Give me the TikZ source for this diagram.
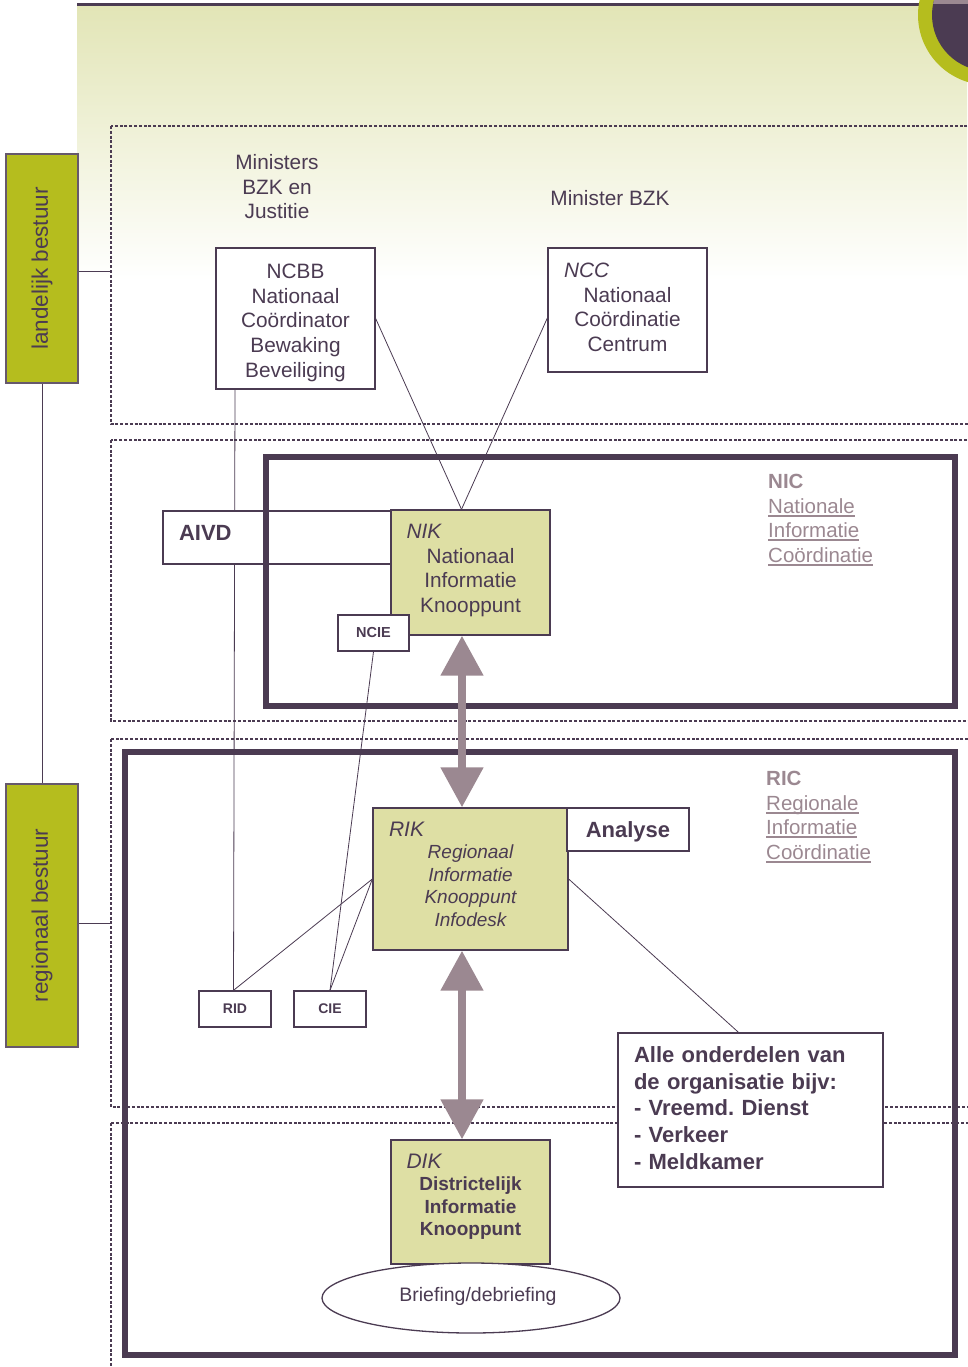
\documentclass[tikz,border=0pt]{standalone}
\usepackage{fontspec}
\setmainfont{Liberation Sans}
\usepackage{tikz}
\usetikzlibrary{arrows.meta,shapes.geometric,positioning}

\definecolor{plum}{HTML}{4B3B52}
\definecolor{mauve}{HTML}{9B8891}
\definecolor{olive}{HTML}{B5BD1E}
\definecolor{knoop}{HTML}{DEDFA4}
\definecolor{lichtgroen}{HTML}{E2E5B6}

\pgfdeclarelayer{back}
\pgfdeclarelayer{lines}
\pgfsetlayers{back,lines,main}

\frenchspacing
\newcommand{\fs}[2]{\fontsize{#1}{#2}\selectfont}
\newcommand{\onder}[1]{\setbox0\hbox{#1}\rlap{\rule[-3.5pt]{\wd0}{1.6pt}}\box0}
\newcommand{\diep}[1]{\rule[-#1]{0pt}{#1}}
\newcommand{\hoog}[1]{\rule{0pt}{#1}}

\tikzset{
  box/.style={draw=plum, line width=1.3pt, fill=white, text=plum, align=center, inner sep=0pt},
  knoopbox/.style={box, fill=knoop},
  bar/.style={draw=plum!85, line width=1.5pt, fill=olive, text=plum, rotate=90, inner sep=0pt,
    minimum height=72pt, font=\fs{22.5}{27}},
  frame/.style={draw=plum, line width=5.5pt, inner sep=0pt},
  zone/.style={draw=plum, line width=1.3pt, dash pattern=on 3pt off 1.8pt},
  link/.style={draw=plum, line width=0.8pt},
  flow/.style={draw=mauve, line width=8pt, {Triangle[width=41pt,length=40pt]}-{Triangle[width=41pt,length=40pt]}},
  caption/.style={text=plum, align=center, inner sep=0pt, font=\fs{20.8}{24.5}},
  sidelabel/.style={text=mauve, align=left, inner sep=0pt, anchor=north west, font=\fs{20.5}{24.5}},
}

\begin{document}
\begin{tikzpicture}[x=1pt,y=-1pt]
\useasboundingbox (0,0) rectangle (967,1367);
\clip (0,0) rectangle (967,1367);

% background, corner and zones
\begin{pgfonlayer}{back}
  \shade[top color=lichtgroen, bottom color=white] (77,5) rectangle (967,280);
  \draw[plum, line width=3pt] (77,5) -- (967,5);
  \fill[olive] (988,15) circle[radius=70];
  \fill[plum] (988,15) circle[radius=56];
  \begin{scope}
    \clip (988,15) circle[radius=56];
    \fill[mauve] (900,-5) rectangle (1000,4);
  \end{scope}
  \draw[zone] (111,126) rectangle (990,424);
  \draw[zone] (111,440) rectangle (990,721);
  \draw[zone] (111,739) rectangle (990,1107);
  \draw[zone] (111,1123) rectangle (990,1400);
\end{pgfonlayer}

% bestuur
\node[bar, minimum width=229pt] (landelijk) at (42,268.5) {landelijk bestuur};
\node[bar, minimum width=263pt] (regionaal) at (42,915.5) {regionaal bestuur};
\coordinate (landpunt) at (111,271);
\coordinate (regpunt) at (111,923);

\node[caption] (ministers) at (277,187) {Ministers\\BZK en\\Justitie};
\node[caption] (minbzk) at (610,198) {Minister BZK};

% landelijk
\node[box, minimum width=159pt, minimum height=141pt, font=\fs{20.8}{24.7}] (ncbb) at (295.5,318.5)
  {\hoog{23pt}NCBB\\Nationaal\\Coördinator\\Bewaking\\Beveiliging};
\node[box, minimum width=159pt, minimum height=124pt, text width=127pt, font=\fs{20.8}{24.5}] (ncc) at (627.5,310)
  {\makebox[127pt][l]{\itshape NCC}\\Nationaal\\Coördinatie\\Centrum\diep{6pt}};

% NIC
\node[box, minimum width=228pt, minimum height=53pt, text width=196pt, align=left,
  font=\bfseries\fs{22}{26}, text height=16pt, text depth=11pt] (aivd) at (277,537.5) {AIVD};
\node[frame, minimum width=689pt, minimum height=249pt] (nic) at (610.5,581.5) {};
\node[knoopbox, minimum width=159pt, minimum height=125pt, text width=128pt, font=\fs{20.8}{24.5}] (nik) at (470.5,572.5)
  {\makebox[128pt][l]{\itshape NIK}\\Nationaal\\Informatie\\Knooppunt\diep{8pt}};
\node[box, minimum width=71pt, minimum height=36pt, font=\bfseries\fs{14.5}{17}] (ncie) at (373.5,633) {NCIE};
\node[sidelabel] (niclabel) at (768,474)
  {\textbf{NIC}\\\onder{Nationale}\\\onder{Informatie}\\\onder{Coördinatie}};

% RIC
\node[frame, minimum width=830pt, minimum height=603pt] (ric) at (540,1053.5) {};
\node[knoopbox, minimum width=195pt, minimum height=142pt, text width=163pt,
  font=\itshape\fs{19}{22.5}] (rik) at (470.5,879)
  {\makebox[163pt][l]{\fs{21}{22.5}RIK}\\Regionaal\\Informatie\\Knooppunt\\Infodesk\diep{10pt}};
\node[box, minimum width=122pt, minimum height=43pt, font=\bfseries\fs{22}{26}] (analyse) at (628,829.5) {\hoog{21pt}Analyse};
\node[box, minimum width=72pt, minimum height=36pt, font=\bfseries\fs{14}{17}] (rid) at (235,1009) {RID};
\node[box, minimum width=72pt, minimum height=36pt, font=\bfseries\fs{14}{17}] (cie) at (330,1009) {CIE};
\node[box, minimum width=265pt, minimum height=154pt, text width=233pt, align=left,
  font=\bfseries\fs{22}{26.75}] (alle) at (750.5,1110)
  {Alle onderdelen van\\de organisatie bijv:\\- Vreemd. Dienst\\- Verkeer\\- Meldkamer\diep{4pt}};
\node[sidelabel] (riclabel) at (766,771)
  {\textbf{RIC}\\\onder{Regionale}\\\onder{Informatie}\\\onder{Coördinatie}};

% district
\node[knoopbox, minimum width=159pt, minimum height=124pt, text width=128pt,
  font=\bfseries\fs{19}{22.5}] (dik) at (470.5,1202)
  {\makebox[128pt][l]{\mdseries\itshape\fs{21}{22.5}DIK}\\Districtelijk\\Informatie\\Knooppunt\diep{14pt}};
\node[box, ellipse, minimum width=298pt, minimum height=70pt, font=\fs{19.5}{23}] (brief) at (471,1298)
  {\hspace*{14pt}Briefing/debriefing\diep{8pt}};

% connections
\begin{pgfonlayer}{lines}
  \draw[link] (landelijk) -- (regionaal);
  \draw[link] (landelijk.south |- landpunt) -- (landpunt);
  \draw[link] (regionaal.south |- regpunt) -- (regpunt);
  \draw[link] (ncbb.east) -- ([xshift=-9pt]nik.north);
  \draw[link] ([yshift=-8pt]ncc.west) -- ([xshift=-9pt]nik.north);
  \draw[link] (ncbb.south -| rid.north) -- ([xshift=-1.5pt]rid.north);
  \draw[link] (ncie.south) -- (cie.north);
  \draw[link] (cie.north) -- (rik.west);
  \draw[link] ([xshift=-1.5pt]rid.north) -- (rik.west);
  \draw[link] (rik.east) -- ([xshift=-12pt]alle.north);
\end{pgfonlayer}

\draw[flow] ([xshift=-8.5pt]nik.south) -- ([xshift=-8.5pt]rik.north);
\draw[flow] ([xshift=-8.5pt]rik.south) -- ([xshift=-8.5pt]dik.north);
\end{tikzpicture}
\end{document}
